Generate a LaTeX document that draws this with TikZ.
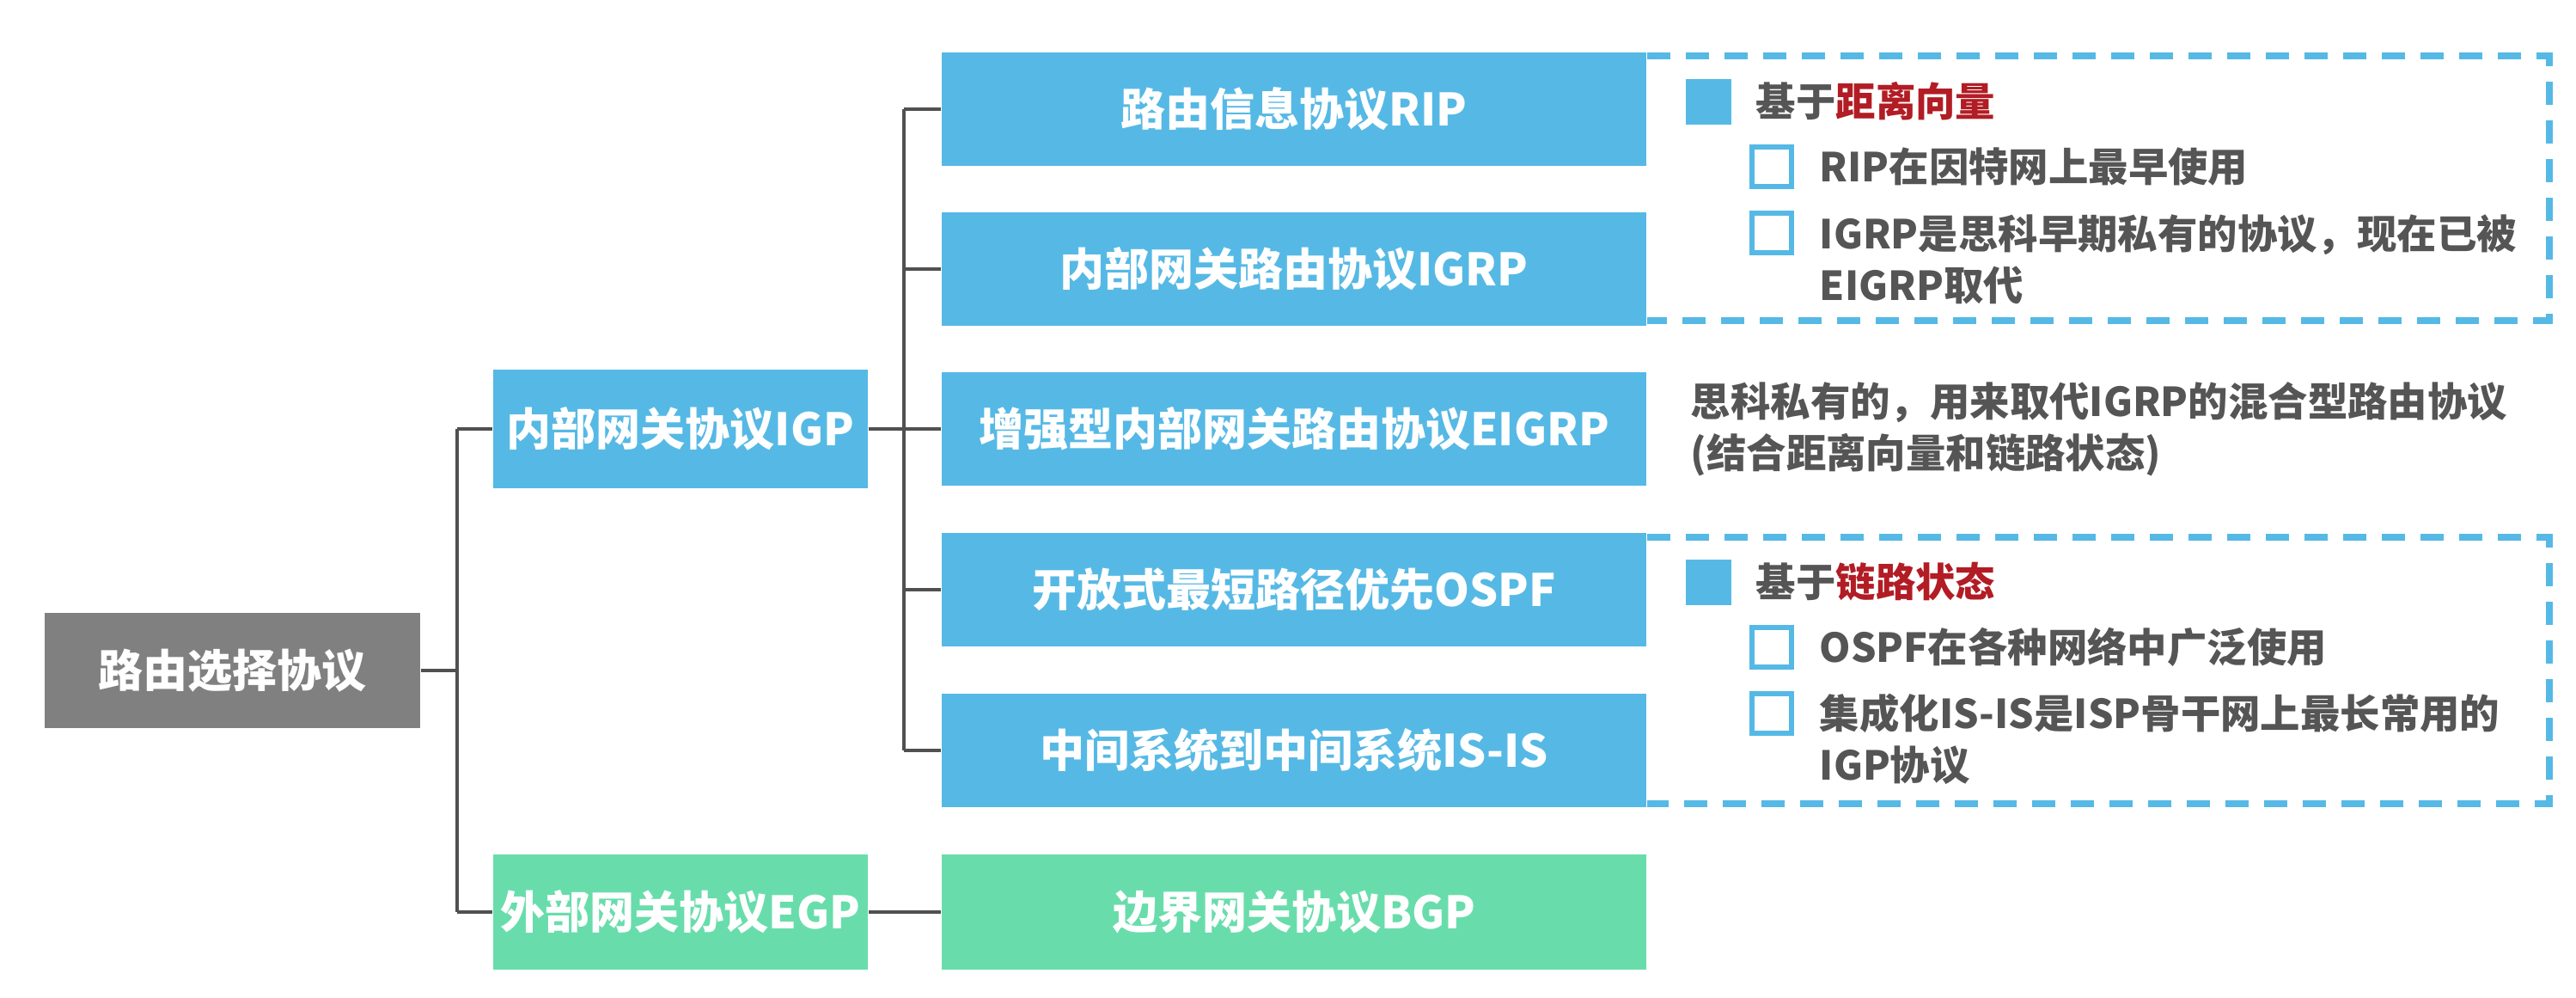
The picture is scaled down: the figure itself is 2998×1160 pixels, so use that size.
\documentclass[tikz,border=0pt]{standalone}
\usepackage{fontspec}
\setmainfont{Noto Sans CJK SC}
\definecolor{boxblue}{RGB}{86,185,229}
\definecolor{boxgreen}{RGB}{104,221,171}
\definecolor{rootgray}{RGB}{128,128,128}
\definecolor{linegray}{RGB}{80,80,80}
\definecolor{notegray}{RGB}{85,85,85}
\definecolor{hlred}{RGB}{178,28,36}
\begin{document}
\begin{tikzpicture}[x=0.25pt,y=-0.25pt,
  box/.style={rectangle, inner sep=0pt, minimum height=33pt, text=white, font=\fontsize{13}{15}\selectfont\bfseries},
  bluebox/.style={box, fill=boxblue, minimum width=205pt},
  greenbox/.style={box, fill=boxgreen, minimum width=205pt},
  conn/.style={draw=linegray, line width=0.8pt},
  note/.style={anchor=west, inner sep=0pt, text=notegray, font=\fontsize{11.6}{15}\selectfont\bfseries, align=left},
  frame/.style={draw=boxblue, line width=1.8pt, dash pattern=on 6.75pt off 4.5pt},
  bulletsq/.style={rectangle, fill=boxblue, minimum size=13.25pt, inner sep=0pt},
  checkbox/.style={rectangle, draw=boxblue, line width=1.6pt, minimum size=11.5pt, inner sep=0pt, fill=white}]
\fill[white] (0,0) rectangle (2998,1160);
\useasboundingbox (0,0) rectangle (2998,1160);

% level 0 and 1
\node[box, fill=rootgray, minimum width=109.25pt, minimum height=33.5pt] (root) at (270.5,780) {路由选择协议};
\node[box, fill=boxblue, minimum width=109pt, minimum height=34.5pt] (igp) at (792,499) {内部网关协议IGP};
\node[box, fill=boxgreen, minimum width=109pt, minimum height=33.5pt] (egp) at (792,1061) {外部网关协议EGP};

% level 2
\node[bluebox] (rip) at (1506,127) {路由信息协议RIP};
\node[bluebox] (igrp) at (1506,313) {内部网关路由协议IGRP};
\node[bluebox] (eigrp) at (1506,499) {增强型内部网关路由协议EIGRP};
\node[bluebox] (ospf) at (1506,686) {开放式最短路径优先OSPF};
\node[bluebox] (isis) at (1506,873) {中间系统到中间系统IS-IS};
\node[greenbox, minimum height=33.5pt] (bgp) at (1506,1061) {边界网关协议BGP};

% connectors level 0 -> 1
\coordinate (busA) at (532,780);
\draw[conn] (root.east) -- (busA);
\draw[conn] (busA |- igp.west) -- (busA |- egp.west);
\draw[conn] (busA |- igp.west) -- (igp.west);
\draw[conn] (busA |- egp.west) -- (egp.west);

% connectors level 1 -> 2
\coordinate (busB) at (1052,499);
\draw[conn] (busB |- rip.west) -- (busB |- isis.west);
\draw[conn] (igp.east) -- (eigrp.west);
\draw[conn] (busB |- rip.west) -- (rip.west);
\draw[conn] (busB |- igrp.west) -- (igrp.west);
\draw[conn] (busB |- ospf.west) -- (ospf.west);
\draw[conn] (busB |- isis.west) -- (isis.west);
\draw[conn] (egp.east) -- (bgp.west);

% dashed frames
\draw[frame] (1917,65) -- (2967,65) -- (2967,373) -- (1917,373);
\draw[frame] (1917,625) -- (2967,625) -- (2967,935) -- (1917,935);

% frame 1 content
\node[bulletsq] (sq1) at (1988,118) {};
\node[note] (h1) at (2043,118) {基于{\color{hlred}距离向量}};
\node[checkbox] (cb1) at (2062,194) {};
\node[note] (t1) at (2117,194) {RIP在因特网上最早使用};
\node[checkbox] (cb2) at (2062,271) {};
\node[note] (t2) at (2117,302) {IGRP是思科早期私有的协议，现在已被\\EIGRP取代};

% EIGRP note
\node[note] (t3) at (1967,499) {思科私有的，用来取代IGRP的混合型路由协议\\(结合距离向量和链路状态)};

% frame 2 content
\node[bulletsq] (sq2) at (1988,677) {};
\node[note] (h2) at (2043,677) {基于{\color{hlred}链路状态}};
\node[checkbox] (cb3) at (2062,753) {};
\node[note] (t4) at (2117,753) {OSPF在各种网络中广泛使用};
\node[checkbox] (cb4) at (2062,830) {};
\node[note] (t5) at (2117,860) {集成化IS-IS是ISP骨干网上最长常用的\\IGP协议};
\end{tikzpicture}
\end{document}
